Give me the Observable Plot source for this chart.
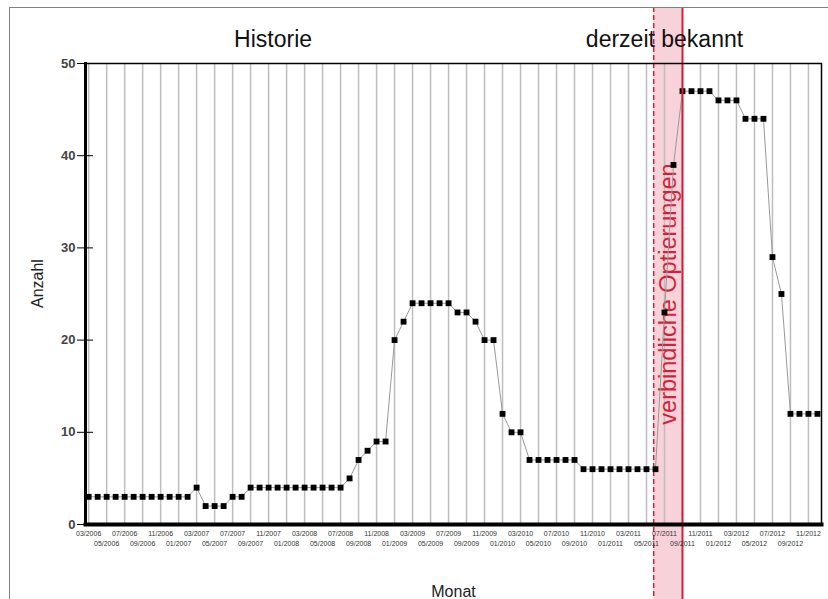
<!DOCTYPE html>
<html>
<head>
<meta charset="utf-8">
<script src="https://cdn.jsdelivr.net/npm/d3@7"></script>
<script src="https://cdn.jsdelivr.net/npm/@observablehq/plot@0.6"></script>
<style>
  html, body { margin: 0; padding: 0; background: #fff; }
  #wrap { position: relative; width: 828px; height: 599px; overflow: hidden; }
  #border { position: absolute; left: 9px; top: 7px; width: 830px; height: 600px;
            border-left: 1.5px solid #808080; border-top: 1.5px solid #808080; pointer-events: none; }
</style>
</head>
<body>
<div id="wrap"><div id="border"></div></div>
<script>
// Months (categories): 03/2006 … 12/2012
const months = d3.utcMonth.range(new Date(Date.UTC(2006, 2, 1)), new Date(Date.UTC(2013, 0, 1)))
  .map(d3.utcFormat("%m/%Y"));

// Anzahl per month
const counts = [
  3, 3, 3, 3, 3, 3, 3, 3, 3, 3, 3, 3,      // 03/2006 – 02/2007
  4, 2, 2, 2, 3, 3,                        // 03/2007 – 08/2007
  4, 4, 4, 4, 4, 4, 4, 4, 4, 4, 4,         // 09/2007 – 07/2008
  5, 7, 8, 9, 9,                           // 08/2008 – 12/2008
  20, 22, 24, 24, 24, 24, 24,              // 01/2009 – 07/2009
  23, 23, 22, 20, 20,                      // 08/2009 – 12/2009
  12, 10, 10, 7, 7, 7, 7, 7, 7,            // 01/2010 – 09/2010
  6, 6, 6, 6, 6, 6, 6, 6, 6,               // 10/2010 – 06/2011
  23, 39, 47, 47, 47, 47,                  // 07/2011 – 12/2011
  46, 46, 46, 44, 44, 44, 29, 25,          // 01/2012 – 08/2012
  12, 12, 12, 12                           // 09/2012 – 12/2012
];

const yTicks = [0, 10, 20, 30, 40, 50];
const gridMonths = months.map((m, i) => i).filter(i => i % 2 === 0);
const tickRow1 = months.map((m, i) => i).filter(i => i % 4 === 0);
const tickRow2 = months.map((m, i) => i).filter(i => i % 4 === 2);

// Annotations (month index positions)
const periodLabels = ["Historie", "derzeit bekannt"];
const periodAt = [20.5, 64];
const bindingLabel = "verbindliche Optierungen";
const bindingStart = 62.8;  // dashed line, late 05/2011
const bindingEnd = 66;      // solid line, 09/2011

const red = "#d41f3a";
const data = counts.map((v, i) => ({i, v}));
const periods = periodLabels.map((label, k) => ({label, at: periodAt[k]}));
const binding = [{s: bindingStart, e: bindingEnd, label: bindingLabel, mid: (bindingStart + bindingEnd) / 2}];

const chart = Plot.plot({
  width: 828,
  height: 599,
  marginLeft: 85,
  marginRight: 7,
  marginTop: 63,
  marginBottom: 75,
  style: {fontFamily: "'Liberation Sans', Arial, sans-serif", background: "transparent", overflow: "visible"},
  x: {domain: [-0.35, 81.45], axis: null},
  y: {domain: [0, 50], axis: null},
  marks: [
    Plot.rect(binding, {x1: "s", x2: "e", fill: "#f7d3d9", insetTop: -56, insetBottom: -76}),
    Plot.ruleX(gridMonths, {stroke: "#bdbdbd", strokeWidth: 1.5}),
    Plot.ruleX(binding, {x: "s", stroke: red, strokeWidth: 1.5, strokeDasharray: "5,3", insetTop: -56, insetBottom: -76}),
    Plot.text(binding, {x: "mid", text: "label", frameAnchor: "middle", rotate: -90, fill: red, fontSize: 23.5}),
    Plot.line(data, {x: "i", y: "v", stroke: "#999", strokeWidth: 1}),
    Plot.dot(data, {x: "i", y: "v", symbol: "square", r: 3.3, fill: "#000", stroke: "none"}),
    Plot.ruleX(binding, {x: "e", stroke: red, strokeWidth: 2, insetTop: -56, insetBottom: -76}),
    Plot.frame({stroke: "#000", strokeWidth: 1.5}),
    Plot.frame({anchor: "left", stroke: "#000", strokeWidth: 3}),
    Plot.frame({anchor: "bottom", stroke: "#000", strokeWidth: 4}),
    Plot.axisY({ticks: yTicks, tickSize: 16, dx: 8, tickFormat: () => "", label: null, stroke: "#000"}),
    Plot.axisY({ticks: yTicks, tickSize: 0, tickPadding: 10, label: null, fontSize: 13, fontWeight: "bold", fill: "#444"}),
    Plot.axisX({ticks: tickRow1, tickSize: 0, tickPadding: 7, tickFormat: i => months[i], label: null, fontSize: 7, fill: "#333"}),
    Plot.axisX({ticks: tickRow2, tickSize: 0, tickPadding: 17, tickFormat: i => months[i], label: null, fontSize: 7, fill: "#333"}),
    Plot.text(["Anzahl"], {text: d => d, frameAnchor: "left", dx: -48, dy: 14, rotate: -90, fontSize: 16, fill: "#222"}),
    Plot.text(["Monat"], {text: d => d, frameAnchor: "bottom", dy: 72, lineAnchor: "bottom", fontSize: 16, fill: "#222"}),
    Plot.text(periods, {x: "at", text: "label", frameAnchor: "top", lineAnchor: "bottom", dy: -17, fontSize: 23, fill: "#111"})
  ]
});
document.getElementById("wrap").prepend(chart);
</script>
</body>
</html>
